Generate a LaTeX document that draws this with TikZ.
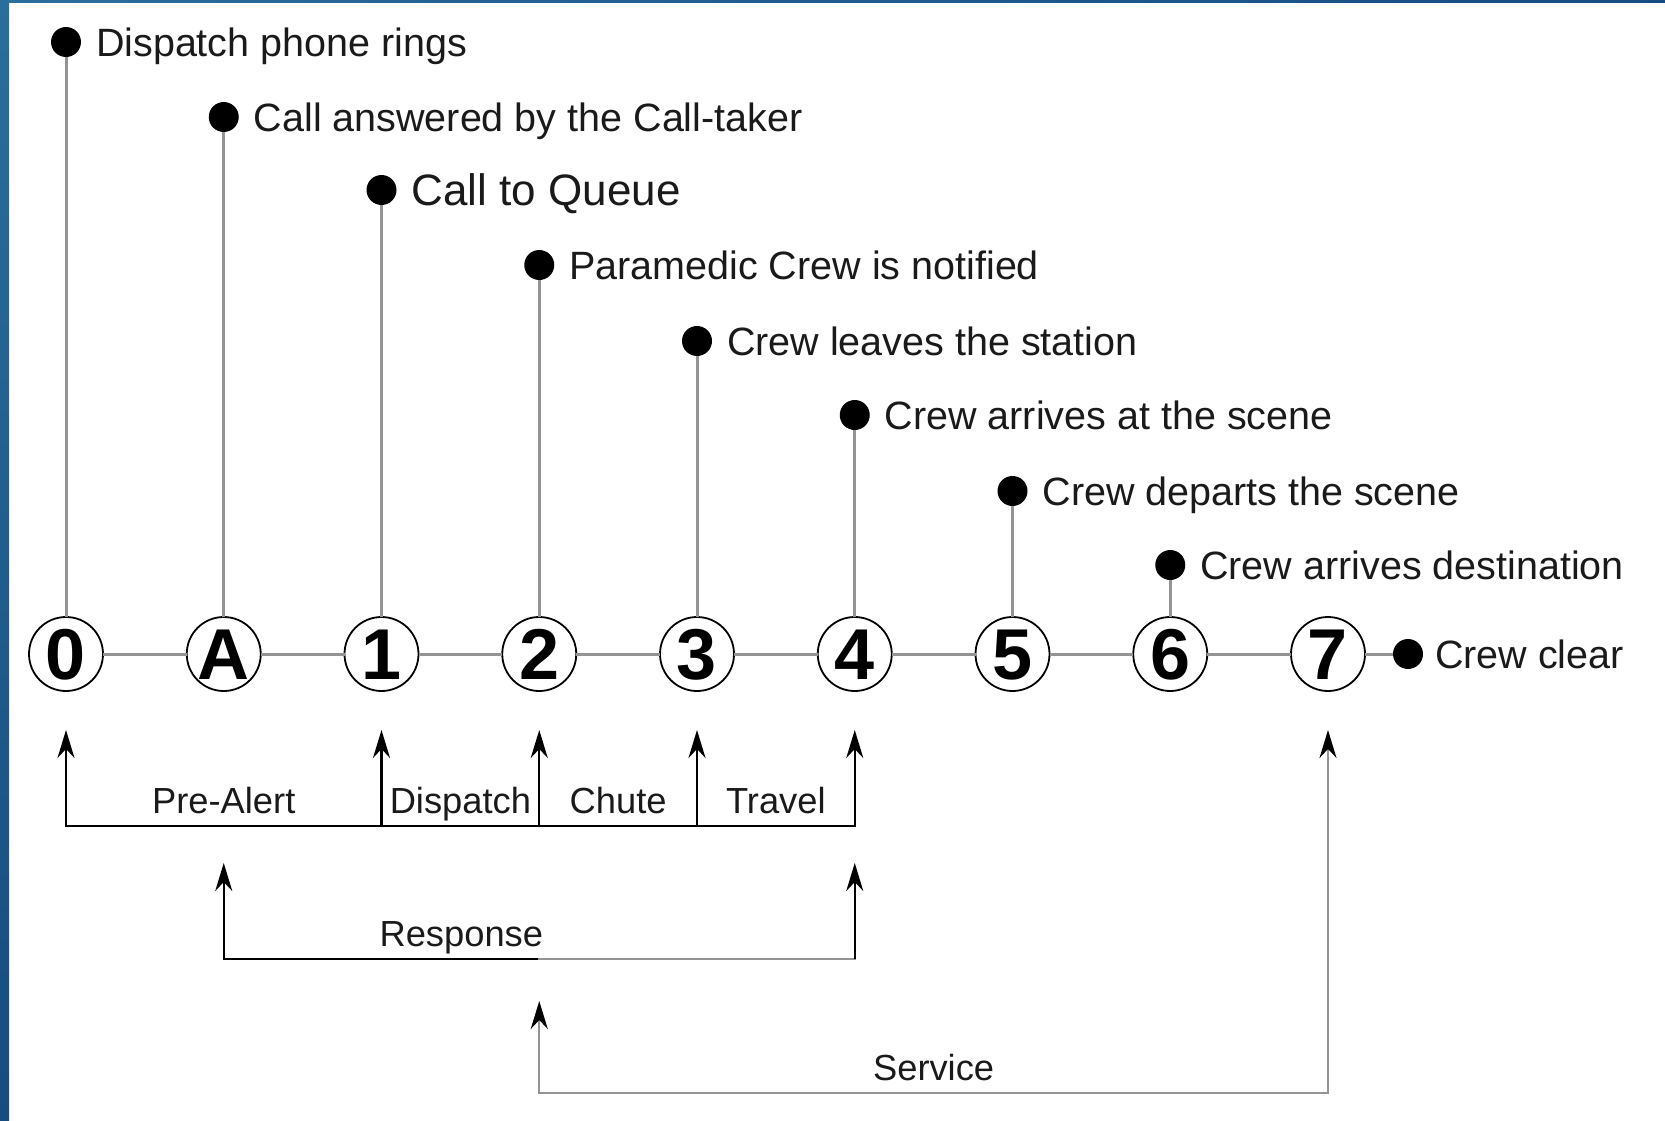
\documentclass[tikz,border=0pt]{standalone}
\usepackage{fontspec}
\setmainfont{Liberation Sans}
\usetikzlibrary{arrows.meta,positioning}
\definecolor{frame}{HTML}{174C80}
\definecolor{frametop}{HTML}{2A6E9B}
\definecolor{rule}{HTML}{949494}
\definecolor{ink}{HTML}{1A1A1A}
\tikzset{stamp/.style={circle,draw=black,line width=1.8pt,fill=white,minimum size=74pt,
  inner sep=0pt,outer sep=0pt,font=\bfseries\fontsize{72}{72}\selectfont,
  text height=51.5pt,text depth=0pt},
  dot/.style={circle,fill=black,minimum size=30pt,inner sep=0pt,outer sep=0pt},
  toplbl/.style={font=\fontsize{39.5}{44}\selectfont,text=ink,inner sep=0pt,outer sep=0pt,
  text height=28.3pt,text depth=0pt,anchor=west},
  tag/.style={font=\fontsize{36.3}{40}\selectfont,text=ink,inner sep=0pt,anchor=base,yshift=13pt},
  stem/.style={draw=rule,line width=3pt},
  bar/.style={draw=black,line width=2.2pt,line cap=rect},
  arrow/.style={-{Stealth[length=28pt,width=17pt,inset=9pt,color=black]},line width=2.2pt,draw=black}}
\begin{document}
\begin{tikzpicture}[x=1pt,y=-1pt,node distance=83.75pt]
\useasboundingbox (0,0) rectangle (1665,1121);
\shade[top color=frametop,bottom color=frame] (0,0) rectangle (9,1121);
\shade[left color=frametop,right color=frame] (0,0) rectangle (1665,3);
% timeline
\node[stamp] (c0) at (66,654) {0};
\node[stamp,right=of c0] (cA) {A};
\node[stamp,right=of cA] (c1) {1};
\node[stamp,right=of c1] (c2) {2};
\node[stamp,right=of c2] (c3) {3};
\node[stamp,right=of c3] (c4) {4};
\node[stamp,right=of c4] (c5) {5};
\node[stamp,right=of c5] (c6) {6};
\node[stamp,right=of c6] (c7) {7};
\node[dot,right=28pt of c7] (dclr) {};
\node[toplbl,right=12pt of dclr] (lclr) {Crew clear};
% events
\node[dot,above=560pt of c0] (d0) {};
\node[dot,above=485pt of cA] (dA) {};
\node[dot,above=412pt of c1] (d1) {};
\node[dot,above=337pt of c2] (d2) {};
\node[dot,above=261pt of c3] (d3) {};
\node[dot,above=187pt of c4] (d4) {};
\node[dot,above=111pt of c5] (d5) {};
\node[dot,above=37pt of c6] (d6) {};
\node[toplbl,right=15pt of d0] (l0) {Dispatch phone rings};
\node[toplbl,right=15pt of dA] (lA) {Call answered by the Call-taker};
\node[toplbl,right=15pt of d1,font=\fontsize{44}{48}\selectfont,text height=31.5pt] (l1) {Call to Queue};
\node[toplbl,right=15pt of d2] (l2) {Paramedic Crew is notified};
\node[toplbl,right=15pt of d3] (l3) {Crew leaves the station};
\node[toplbl,right=15pt of d4] (l4) {Crew arrives at the scene};
\node[toplbl,right=15pt of d5] (l5) {Crew departs the scene};
\node[toplbl,right=15pt of d6] (l6) {Crew arrives destination};
\draw[stem] (c0) -- (cA) -- (c1) -- (c2) -- (c3) -- (c4) -- (c5) -- (c6) -- (c7) -- (dclr);
\draw[stem] (d0) -- (c0); \draw[stem] (dA) -- (cA); \draw[stem] (d1) -- (c1);
\draw[stem] (d2) -- (c2); \draw[stem] (d3) -- (c3); \draw[stem] (d4) -- (c4);
\draw[stem] (d5) -- (c5); \draw[stem] (d6) -- (c6);
% intervals
\coordinate[below=39pt of c0] (t0); \coordinate[below=135pt of c0] (b0);
\coordinate[below=39pt of c1] (t1); \coordinate[below=135pt of c1] (b1);
\coordinate[below=39pt of c2] (t2); \coordinate[below=135pt of c2] (b2);
\coordinate[below=39pt of c3] (t3); \coordinate[below=135pt of c3] (b3);
\coordinate[below=39pt of c4] (t4); \coordinate[below=135pt of c4] (b4);
\coordinate[below=172pt of cA] (uA); \coordinate[below=268pt of cA] (rA);
\coordinate[below=172pt of c4] (u4); \coordinate[below=268pt of c4] (r4);
\coordinate[below=268pt of c2] (rm);
\coordinate[below=310pt of c2] (s2); \coordinate[below=402pt of c2] (q2);
\coordinate[below=39pt of c7] (t7); \coordinate[below=402pt of c7] (q7);
\draw[bar] (b0) -- node[tag] {Pre-Alert} (b1) -- node[tag] {Dispatch} (b2)
  -- node[tag] {Chute} (b3) -- node[tag] {Travel} (b4);
\draw[arrow] (b0) -- (t0); \draw[arrow] (b1) -- (t1); \draw[arrow] (b2) -- (t2);
\draw[arrow] (b3) -- (t3); \draw[arrow] (b4) -- (t4);
\draw[bar] (rA) -- node[tag,pos=0.753] {Response} (rm);
\draw[bar,draw=rule] (rm) -- (r4);
\draw[arrow] (rA) -- (uA); \draw[arrow] (r4) -- (u4);
\draw[bar,draw=rule] (q2) -- node[tag] {Service} (q7);
\draw[arrow,draw=rule] (q2) -- (s2); \draw[arrow,draw=rule] (q7) -- (t7);
\end{tikzpicture}
\end{document}
